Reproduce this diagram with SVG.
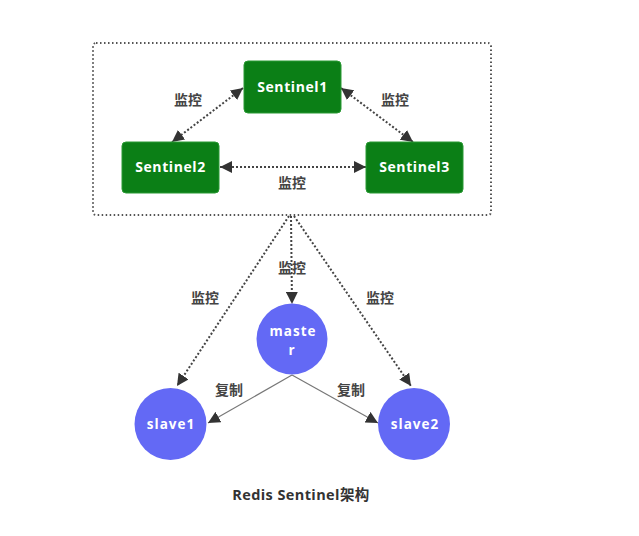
<svg xmlns="http://www.w3.org/2000/svg" width="639" height="536" viewBox="0 0 639 536">
<style>
.sent{fill:#0b7f16;stroke:#2a9a34;stroke-width:1}
.sent-t{font-family:"Open Sans","Liberation Sans","Noto Sans CJK SC",sans-serif;font-weight:bold;font-size:14px;fill:#fff;text-anchor:middle;letter-spacing:0.6px}
.node{fill:#6369f5}
.node-t{font-family:"Open Sans","Liberation Sans","Noto Sans CJK SC",sans-serif;font-weight:bold;font-size:13.5px;fill:#fff;text-anchor:middle;letter-spacing:1px}
.lbl{font-family:"Noto Sans CJK SC",sans-serif;font-weight:bold;font-size:14px;fill:#444;text-anchor:middle}
.dot{stroke:#444;stroke-width:2;stroke-dasharray:2 2;fill:none}
.sol{stroke:#777;stroke-width:1.2;fill:none}
</style>
<defs>
<marker id="ah2" viewBox="0 0 10 10" refX="10" refY="5" markerWidth="12" markerHeight="12" orient="auto-start-reverse" markerUnits="userSpaceOnUse">
<path d="M0,0 L10,5 L0,10 z" fill="#333"/>
</marker>
</defs>
<rect width="639" height="536" fill="#fff"/>
<rect id="sentinel-group" x="93" y="43" width="398" height="172" rx="3" fill="none" stroke="#555" stroke-width="2" stroke-dasharray="1.5 2.5"/>
<g id="connectors">
<line class="dot" x1="243" y1="88" x2="172" y2="142" marker-start="url(#ah2)" marker-end="url(#ah2)"/>
<line class="dot" x1="341" y1="88" x2="413" y2="142" marker-start="url(#ah2)" marker-end="url(#ah2)"/>
<line class="dot" x1="220" y1="167" x2="366" y2="167" marker-start="url(#ah2)" marker-end="url(#ah2)"/>
<line class="dot" x1="291" y1="216" x2="292" y2="304" marker-end="url(#ah2)"/>
<line class="dot" x1="289" y1="216" x2="177" y2="386" marker-end="url(#ah2)"/>
<line class="dot" x1="294" y1="216" x2="411" y2="386" marker-end="url(#ah2)"/>
<line class="sol" x1="292" y1="375" x2="208" y2="423" marker-end="url(#ah2)"/>
<line class="sol" x1="292" y1="375" x2="378" y2="423" marker-end="url(#ah2)"/>
</g>
<g id="sentinel1"><rect class="sent" x="244" y="61" width="97" height="52" rx="4"/><text class="sent-t" x="292.5" y="92">Sentinel1</text></g>
<g id="sentinel2"><rect class="sent" x="122" y="142" width="97" height="51" rx="4"/><text class="sent-t" x="170.5" y="172">Sentinel2</text></g>
<g id="sentinel3"><rect class="sent" x="366" y="142" width="97" height="51" rx="4"/><text class="sent-t" x="414.5" y="172">Sentinel3</text></g>
<g id="master"><circle class="node" cx="292" cy="339" r="35.5"/><text class="node-t" x="293" y="336">maste</text><text class="node-t" x="292" y="355">r</text></g>
<g id="slave1"><circle class="node" cx="170.5" cy="424" r="36"/><text class="node-t" x="171" y="429">slave1</text></g>
<g id="slave2"><circle class="node" cx="414" cy="424" r="36"/><text class="node-t" x="415" y="429">slave2</text></g>
<g id="labels">
<text class="lbl" x="188" y="105">监控</text>
<text class="lbl" x="395" y="105">监控</text>
<text class="lbl" x="292" y="188">监控</text>
<text class="lbl" x="292" y="273">监控</text>
<text class="lbl" x="205" y="303">监控</text>
<text class="lbl" x="380" y="303">监控</text>
<text class="lbl" x="229" y="395">复制</text>
<text class="lbl" x="351" y="395">复制</text>
</g>
<text id="title" x="301" y="500" font-family="'Open Sans','Liberation Sans','Noto Sans CJK SC',sans-serif" font-weight="bold" font-size="14.5" letter-spacing="0.4" fill="#333" text-anchor="middle">Redis Sentinel架构</text>
</svg>
